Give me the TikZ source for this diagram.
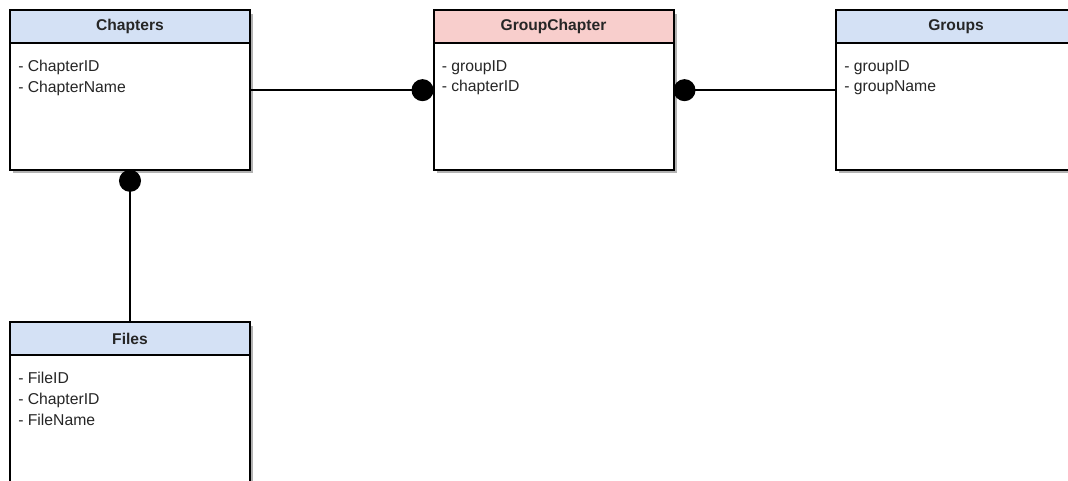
\documentclass[tikz,border=0pt]{standalone}
\usepackage{fontspec}
\setmainfont{Liberation Sans}
\usetikzlibrary{arrows.meta,shadows,positioning}
\definecolor{headblue}{HTML}{D4E1F5}
\definecolor{headpink}{HTML}{F8CECC}
\tikzset{erdot/.tip={Circle[length=16.5pt]}}

\begin{document}
\begin{tikzpicture}[x=0.75pt,y=-0.75pt,
        table/.style={draw, line width=1.5pt, fill=white, minimum width=180pt, minimum height=119.5pt,
            outer sep=0pt, inner sep=0pt, anchor=north west,
            drop shadow={shadow xshift=2.5pt, shadow yshift=-2.5pt, opacity=0.3, fill=black}},
        tablehead/.style={draw, line width=1.5pt, minimum width=180pt, minimum height=24.5pt,
            outer sep=0pt, inner sep=0pt, anchor=north, text=black!85,
            font=\fontsize{11.7}{14}\selectfont\bfseries},
        fields/.style={anchor=north west, inner sep=0pt, align=left, text=black!85,
            font=\fontsize{11.8}{15.6}\selectfont},
        link/.style={line width=1.5pt}]
        \useasboundingbox (0,0) rectangle (1068,481);
        \clip (0,0) rectangle (1068,481);

        \node[table] (chapters) at (10,10.5) {};
        \node[tablehead, fill=headblue] (chaptershead) at (chapters.north) {Chapters};
        \node[fields] (chaptersfields) at ([shift={(8,49.5)}]chapters.north west) {- ChapterID\\- ChapterName};

        \node[table] (groupchapter) at (433.5,10.5) {};
        \node[tablehead, fill=headpink] (groupchapterhead) at (groupchapter.north) {GroupChapter};
        \node[fields] (groupchapterfields) at ([shift={(8,49.5)}]groupchapter.north west) {- groupID\\- chapterID};

        \node[table] (groups) at (836,10.5) {};
        \node[tablehead, fill=headblue] (groupshead) at (groups.north) {Groups};
        \node[fields] (groupsfields) at ([shift={(8,49.5)}]groups.north west) {- groupID\\- groupName};

        \node[table] (files) at (10,322.3) {};
        \node[tablehead, fill=headblue] (fileshead) at (files.north) {Files};
        \node[fields] (filesfields) at ([shift={(8,49.5)}]files.north west) {- FileID\\- ChapterID\\- FileName};

        \draw[link, -erdot] (chapters) -- (groupchapter);
        \draw[link, erdot-] (groupchapter) -- (groups);
        \draw[link, erdot-] (chapters) -- (files);
\end{tikzpicture}
\end{document}
